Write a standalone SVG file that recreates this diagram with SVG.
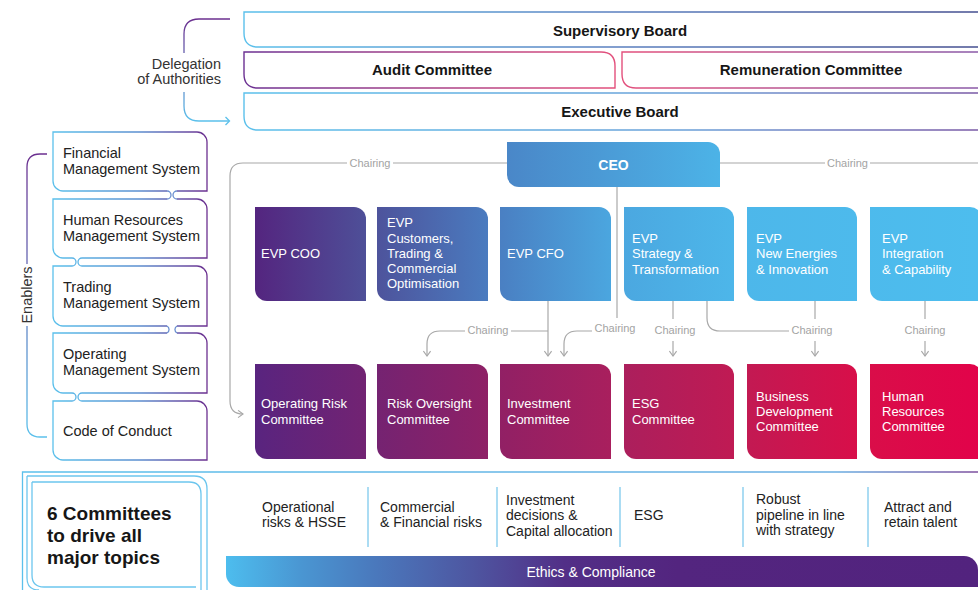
<svg xmlns="http://www.w3.org/2000/svg" width="978" height="590" viewBox="0 0 978 590">
  <defs>
    <style>
      text { font-family: "Liberation Sans", Arial, sans-serif; }
      .bold { font-weight: bold; fill: #161616; font-size: 15px; }
      .enab { font-size: 14.5px; fill: #222; }
      .evp { font-size: 13px; fill: #ffffff; }
      .chair { font-size: 11px; fill: #a3a3a3; }
      .topic { font-size: 14px; fill: #222; }
      .conn { fill: none; stroke: #a8a8a8; stroke-width: 1.2; }
      .sep { stroke: #8fd0ef; stroke-width: 1.5; }
      .frame { fill: none; stroke: #6cc6ee; stroke-width: 1.3; }
    </style>
    <linearGradient id="gSup" gradientUnits="userSpaceOnUse" x1="244" y1="0" x2="978" y2="0">
      <stop offset="0" stop-color="#5bc0eb"/>
      <stop offset="0.5" stop-color="#5a80c0"/>
      <stop offset="1" stop-color="#454f90"/>
    </linearGradient>
    <linearGradient id="gAud" gradientUnits="userSpaceOnUse" x1="244" y1="0" x2="615" y2="0">
      <stop offset="0" stop-color="#6b3092"/>
      <stop offset="1" stop-color="#e3507c"/>
    </linearGradient>
    <linearGradient id="gRem" gradientUnits="userSpaceOnUse" x1="622" y1="0" x2="978" y2="0">
      <stop offset="0" stop-color="#e3507c"/>
      <stop offset="1" stop-color="#8a5aa8"/>
    </linearGradient>
    <linearGradient id="gExe" gradientUnits="userSpaceOnUse" x1="244" y1="0" x2="978" y2="0">
      <stop offset="0" stop-color="#5bc0eb"/>
      <stop offset="0.6" stop-color="#6aa0d8"/>
      <stop offset="1" stop-color="#7a5aa6"/>
    </linearGradient>
    <linearGradient id="gDel" gradientUnits="userSpaceOnUse" x1="0" y1="19" x2="0" y2="121">
      <stop offset="0" stop-color="#6b2f8f"/>
      <stop offset="1" stop-color="#5bc0eb"/>
    </linearGradient>
    <linearGradient id="gEnb" gradientUnits="userSpaceOnUse" x1="0" y1="154" x2="0" y2="437">
      <stop offset="0" stop-color="#6b2f8f"/>
      <stop offset="1" stop-color="#5bc0eb"/>
    </linearGradient>
    <linearGradient id="gSys" gradientUnits="userSpaceOnUse" x1="53" y1="0" x2="207" y2="0">
      <stop offset="0" stop-color="#5bc0eb"/>
      <stop offset="0.55" stop-color="#5b8fd0"/>
      <stop offset="1" stop-color="#6b2f8f"/>
    </linearGradient>
    <linearGradient id="gCeo" gradientUnits="userSpaceOnUse" x1="507" y1="0" x2="720" y2="0">
      <stop offset="0" stop-color="#4a87c8"/>
      <stop offset="1" stop-color="#4cb3e7"/>
    </linearGradient>
    <linearGradient id="gEvp" gradientUnits="userSpaceOnUse" x1="255" y1="0" x2="978" y2="0">
      <stop offset="0" stop-color="#54257f"/>
      <stop offset="0.152" stop-color="#4e4f98"/>
      <stop offset="0.325" stop-color="#4a7cc0"/>
      <stop offset="0.492" stop-color="#4ba6df"/>
      <stop offset="0.67" stop-color="#4db7ea"/>
      <stop offset="1" stop-color="#4dbdee"/>
    </linearGradient>
    <linearGradient id="gCom" gradientUnits="userSpaceOnUse" x1="255" y1="0" x2="978" y2="0">
      <stop offset="0" stop-color="#59247f"/>
      <stop offset="0.159" stop-color="#732372"/>
      <stop offset="0.332" stop-color="#902065"/>
      <stop offset="0.5" stop-color="#aa1f5d"/>
      <stop offset="0.671" stop-color="#c11a53"/>
      <stop offset="0.841" stop-color="#d90e49"/>
      <stop offset="1" stop-color="#e2034a"/>
    </linearGradient>
    <linearGradient id="gEth" gradientUnits="userSpaceOnUse" x1="226" y1="0" x2="978" y2="0">
      <stop offset="0" stop-color="#4dbdee"/>
      <stop offset="0.1" stop-color="#4a96d2"/>
      <stop offset="0.2" stop-color="#4a78bc"/>
      <stop offset="0.33" stop-color="#4e55a0"/>
      <stop offset="0.45" stop-color="#522f87"/>
      <stop offset="0.6" stop-color="#53257f"/>
      <stop offset="1" stop-color="#52237e"/>
    </linearGradient>
    <linearGradient id="gFrm" gradientUnits="userSpaceOnUse" x1="22" y1="0" x2="978" y2="0">
      <stop offset="0" stop-color="#5bc0eb"/>
      <stop offset="0.85" stop-color="#6aaee2"/>
      <stop offset="1" stop-color="#7d4f9e"/>
    </linearGradient>
    <marker id="chev" viewBox="0 0 10 10" refX="9" refY="5" markerWidth="9" markerHeight="9" markerUnits="userSpaceOnUse" orient="auto">
      <path d="M3.5,1 L9,5 L3.5,9" fill="none" stroke="#a8a8a8" stroke-width="1.3"/>
    </marker>
    <marker id="chevBlue" viewBox="0 0 10 10" refX="9" refY="5" markerWidth="9" markerHeight="9" markerUnits="userSpaceOnUse" orient="auto">
      <path d="M3.5,1 L9,5 L3.5,9" fill="none" stroke="#5bc0eb" stroke-width="1.3"/>
    </marker>
  </defs>

  <rect width="978" height="590" fill="#ffffff"/>

  <!-- Governance boards -->
  <g id="supervisory-board">
    <path d="M978,12 H244 V33 Q244,47 258,47 H978" fill="none" stroke="url(#gSup)" stroke-width="1.4"/>
    <text class="bold" x="620" y="35.5" text-anchor="middle">Supervisory Board</text>
  </g>
  <g id="audit-committee">
    <path d="M244,52 V74 Q244,88 258,88 H615 V66 Q615,52 601,52 Z" fill="none" stroke="url(#gAud)" stroke-width="1.4"/>
    <text class="bold" x="432" y="75" text-anchor="middle">Audit Committee</text>
  </g>
  <g id="remuneration-committee">
    <path d="M978,52 H622 V74 Q622,88 636,88 H978" fill="none" stroke="url(#gRem)" stroke-width="1.4"/>
    <text class="bold" x="811" y="75" text-anchor="middle">Remuneration Committee</text>
  </g>
  <g id="executive-board">
    <path d="M978,93 H244 V116 Q244,130 258,130 H978" fill="none" stroke="url(#gExe)" stroke-width="1.4"/>
    <text class="bold" x="620" y="116.5" text-anchor="middle">Executive Board</text>
  </g>

  <!-- Delegation of Authorities bracket -->
  <g id="delegation">
    <path d="M230,19 H199 Q184,19 184,34 V53 M184,92 V106 Q184,121 199,121 H229" fill="none" stroke="url(#gDel)" stroke-width="1.3"/>
    <path d="M225.5,117 L229.5,121 L225.5,125" fill="none" stroke="#5bc0eb" stroke-width="1.3"/>
    <text x="221" y="68.5" font-size="14.5" fill="#333" text-anchor="end">Delegation</text>
    <text x="221" y="83.5" font-size="14.5" fill="#333" text-anchor="end">of Authorities</text>
  </g>

  <!-- Enablers bracket -->
  <g id="enablers-label">
    <path d="M47,154 H40 Q27,154 27,167 V264 M27,326 V424 Q27,437 40,437 H47" fill="none" stroke="url(#gEnb)" stroke-width="1.3"/>
    <text x="27" y="295" font-size="14.5" fill="#333" text-anchor="middle" dominant-baseline="central" transform="rotate(-90 27 295)">Enablers</text>
  </g>

  <!-- Management systems stack -->
  <g id="financial-ms">
    <path d="M167,191 H63 A10,10 0 0 1 53,181 V132 H197 A10,10 0 0 1 207,142 V191 H177" fill="none" stroke="url(#gSys)" stroke-width="1.3"/>
    <text class="enab" x="63" y="158">Financial</text>
    <text class="enab" x="63" y="174">Management System</text>
  </g>
  <g id="hr-ms">
    <path d="M167,199 H53 V248 A10,10 0 0 0 63,258 H72 M82,258 H207 V209 A10,10 0 0 0 197,199 H177" fill="none" stroke="url(#gSys)" stroke-width="1.3"/>
    <text class="enab" x="63" y="225">Human Resources</text>
    <text class="enab" x="63" y="241">Management System</text>
  </g>
  <g id="trading-ms">
    <path d="M72,266 H53 V316 A10,10 0 0 0 63,326 H167 M177,326 H207 V276 A10,10 0 0 0 197,266 H82" fill="none" stroke="url(#gSys)" stroke-width="1.3"/>
    <text class="enab" x="63" y="292">Trading</text>
    <text class="enab" x="63" y="308">Management System</text>
  </g>
  <g id="operating-ms">
    <path d="M167,333 H53 V383 A10,10 0 0 0 63,393 H72 M82,393 H207 V343 A10,10 0 0 0 197,333 H177" fill="none" stroke="url(#gSys)" stroke-width="1.3"/>
    <text class="enab" x="63" y="359">Operating</text>
    <text class="enab" x="63" y="375">Management System</text>
  </g>
  <g id="code-of-conduct">
    <path d="M72,401 H53 V450 A10,10 0 0 0 63,460 H207 V411 A10,10 0 0 0 197,401 H82" fill="none" stroke="url(#gSys)" stroke-width="1.3"/>
    <text class="enab" x="63" y="436">Code of Conduct</text>
  </g>

  <!-- CEO -->
  <g id="ceo">
    <path d="M507,142 H708 A12,12 0 0 1 720,154 V187 H519 A12,12 0 0 1 507,175 Z" fill="url(#gCeo)"/>
    <text x="613.5" y="170" font-size="14" font-weight="bold" fill="#ffffff" text-anchor="middle">CEO</text>
  </g>

  <!-- Executive Vice Presidents -->
  <g id="evp-coo">
    <path d="M255,207 H354 A12,12 0 0 1 366,219 V301 H267 A12,12 0 0 1 255,289 Z" fill="url(#gEvp)"/>
    <text class="evp" x="261" y="258">EVP COO</text>
  </g>
  <g id="evp-customers">
    <path d="M377,207 H476 A12,12 0 0 1 488,219 V301 H389 A12,12 0 0 1 377,289 Z" fill="url(#gEvp)"/>
    <text class="evp" x="387" y="227">EVP</text>
    <text class="evp" x="387" y="242.5">Customers,</text>
    <text class="evp" x="387" y="258">Trading &amp;</text>
    <text class="evp" x="387" y="273">Commercial</text>
    <text class="evp" x="387" y="288">Optimisation</text>
  </g>
  <g id="evp-cfo">
    <path d="M500,207 H599 A12,12 0 0 1 611,219 V301 H512 A12,12 0 0 1 500,289 Z" fill="url(#gEvp)"/>
    <text class="evp" x="507" y="258">EVP CFO</text>
  </g>
  <g id="evp-strategy">
    <path d="M624,207 H722 A12,12 0 0 1 734,219 V301 H636 A12,12 0 0 1 624,289 Z" fill="url(#gEvp)"/>
    <text class="evp" x="632" y="243">EVP</text>
    <text class="evp" x="632" y="258">Strategy &amp;</text>
    <text class="evp" x="632" y="274">Transformation</text>
  </g>
  <g id="evp-new-energies">
    <path d="M747,207 H845 A12,12 0 0 1 857,219 V301 H759 A12,12 0 0 1 747,289 Z" fill="url(#gEvp)"/>
    <text class="evp" x="756" y="243">EVP</text>
    <text class="evp" x="756" y="258">New Energies</text>
    <text class="evp" x="756" y="274">&amp; Innovation</text>
  </g>
  <g id="evp-integration">
    <path d="M870,207 H970 A12,12 0 0 1 982,219 V301 H882 A12,12 0 0 1 870,289 Z" fill="url(#gEvp)"/>
    <text class="evp" x="882" y="243">EVP</text>
    <text class="evp" x="882" y="258">Integration</text>
    <text class="evp" x="882" y="274">&amp; Capability</text>
  </g>

  <!-- Committees -->
  <g id="operating-risk-committee">
    <path d="M255,364 H354 A12,12 0 0 1 366,376 V459 H267 A12,12 0 0 1 255,447 Z" fill="url(#gCom)"/>
    <text class="evp" x="261" y="408">Operating Risk</text>
    <text class="evp" x="261" y="424">Committee</text>
  </g>
  <g id="risk-oversight-committee">
    <path d="M377,364 H476 A12,12 0 0 1 488,376 V459 H389 A12,12 0 0 1 377,447 Z" fill="url(#gCom)"/>
    <text class="evp" x="387" y="408">Risk Oversight</text>
    <text class="evp" x="387" y="423.5">Committee</text>
  </g>
  <g id="investment-committee">
    <path d="M500,364 H599 A12,12 0 0 1 611,376 V459 H512 A12,12 0 0 1 500,447 Z" fill="url(#gCom)"/>
    <text class="evp" x="507" y="408">Investment</text>
    <text class="evp" x="507" y="424">Committee</text>
  </g>
  <g id="esg-committee">
    <path d="M624,364 H722 A12,12 0 0 1 734,376 V459 H636 A12,12 0 0 1 624,447 Z" fill="url(#gCom)"/>
    <text class="evp" x="632" y="408">ESG</text>
    <text class="evp" x="632" y="424">Committee</text>
  </g>
  <g id="business-development-committee">
    <path d="M747,364 H845 A12,12 0 0 1 857,376 V459 H759 A12,12 0 0 1 747,447 Z" fill="url(#gCom)"/>
    <text class="evp" x="756" y="401">Business</text>
    <text class="evp" x="756" y="416">Development</text>
    <text class="evp" x="756" y="431">Committee</text>
  </g>
  <g id="hr-committee">
    <path d="M870,364 H970 A12,12 0 0 1 982,376 V459 H882 A12,12 0 0 1 870,447 Z" fill="url(#gCom)"/>
    <text class="evp" x="882" y="401">Human</text>
    <text class="evp" x="882" y="416">Resources</text>
    <text class="evp" x="882" y="431">Committee</text>
  </g>

  <!-- Chairing connectors -->
  <g id="connectors">
    <!-- links between the stacked management systems -->
    <path d="M167,191 A4,4 0 0 1 167,199 M177,191 A4,4 0 0 0 177,199" fill="none" stroke="#6a8fd0" stroke-width="1.3"/>
    <path d="M72,258 A4,4 0 0 1 72,266 M82,258 A4,4 0 0 0 82,266" fill="none" stroke="#5bb4e6" stroke-width="1.3"/>
    <path d="M167,326 A4,4 0 0 1 167,333 M177,326 A4,4 0 0 0 177,333" fill="none" stroke="#6a8fd0" stroke-width="1.3"/>
    <path d="M72,393 A4,4 0 0 1 72,401 M82,393 A4,4 0 0 0 82,401" fill="none" stroke="#5bb4e6" stroke-width="1.3"/>

    <!-- CEO to Operating Risk Committee -->
    <path class="conn" d="M507,163 H393 M347,163 H243 Q230,163 230,176 V401 Q230,414 243,414" marker-end="url(#chev)"/>
    <text class="chair" x="370" y="167" text-anchor="middle">Chairing</text>
    <!-- CEO to the right -->
    <path class="conn" d="M720,163 H825 M870,163 H978"/>
    <text class="chair" x="847.5" y="167" text-anchor="middle">Chairing</text>

    <!-- EVP CFO to Investment and Risk Oversight -->
    <path class="conn" d="M548,301 V356" marker-end="url(#chev)"/>
    <path class="conn" d="M548,331 H511"/>
    <path class="conn" d="M465,331 H440 Q427,331 427,344 V356" marker-end="url(#chev)"/>
    <text class="chair" x="488" y="334" text-anchor="middle">Chairing</text>

    <!-- CEO to Investment Committee -->
    <path class="conn" d="M617,187 V318"/>
    <text class="chair" x="615" y="332" text-anchor="middle">Chairing</text>
    <path class="conn" d="M592,331 H577 Q564,331 564,344 V356" marker-end="url(#chev)"/>

    <!-- EVP Strategy to ESG -->
    <path class="conn" d="M673,301 V319"/>
    <text class="chair" x="675" y="334" text-anchor="middle">Chairing</text>
    <path class="conn" d="M673,341 V356" marker-end="url(#chev)"/>

    <!-- EVP Strategy and EVP New Energies to Business Development -->
    <path class="conn" d="M707,301 V318 Q707,331 720,331 H789"/>
    <path class="conn" d="M815,301 V319"/>
    <text class="chair" x="812" y="334" text-anchor="middle">Chairing</text>
    <path class="conn" d="M815,341 V356" marker-end="url(#chev)"/>

    <!-- EVP Integration to HR Committee -->
    <path class="conn" d="M925,301 V319"/>
    <text class="chair" x="925" y="334" text-anchor="middle">Chairing</text>
    <path class="conn" d="M925,341 V356" marker-end="url(#chev)"/>
  </g>

  <!-- Committee topics panel -->
  <g id="topics-panel">
    <path d="M978,472 H22.5 V590" fill="none" stroke="url(#gFrm)" stroke-width="1.3"/>
    <path class="frame" d="M27,476 H194 Q207,476 207,489 V590 M27,476 V578 Q27,590 39,590"/>
    <path class="frame" d="M32,482 H189 Q201,482 201,494 V590 M32,482 V575 Q32,587 44,587 H196"/>
    <text x="47" y="520" font-size="19" font-weight="bold" fill="#161616">6 Committees</text>
    <text x="47" y="542" font-size="19" font-weight="bold" fill="#161616">to drive all</text>
    <text x="47" y="564" font-size="19" font-weight="bold" fill="#161616">major topics</text>
  </g>

  <g id="topics">
    <line class="sep" x1="368" y1="487" x2="368" y2="547"/>
    <line class="sep" x1="497" y1="487" x2="497" y2="547"/>
    <line class="sep" x1="620" y1="487" x2="620" y2="547"/>
    <line class="sep" x1="743" y1="487" x2="743" y2="547"/>
    <line class="sep" x1="868" y1="487" x2="868" y2="547"/>
    <text class="topic" x="262" y="512">Operational</text>
    <text class="topic" x="262" y="527">risks &amp; HSSE</text>
    <text class="topic" x="380" y="512">Commercial</text>
    <text class="topic" x="380" y="527">&amp; Financial risks</text>
    <text class="topic" x="506" y="505">Investment</text>
    <text class="topic" x="506" y="520">decisions &amp;</text>
    <text class="topic" x="506" y="536">Capital allocation</text>
    <text class="topic" x="634" y="520">ESG</text>
    <text class="topic" x="756" y="504">Robust</text>
    <text class="topic" x="756" y="519.5">pipeline in line</text>
    <text class="topic" x="756" y="535">with strategy</text>
    <text class="topic" x="884" y="512">Attract and</text>
    <text class="topic" x="884" y="527">retain talent</text>
  </g>

  <g id="ethics-compliance">
    <path d="M226,556 H964 A14,14 0 0 1 978,570 V587 H239 A13,13 0 0 1 226,574 Z" fill="url(#gEth)"/>
    <text x="591" y="577" font-size="14" fill="#ffffff" text-anchor="middle">Ethics &amp; Compliance</text>
  </g>
</svg>
